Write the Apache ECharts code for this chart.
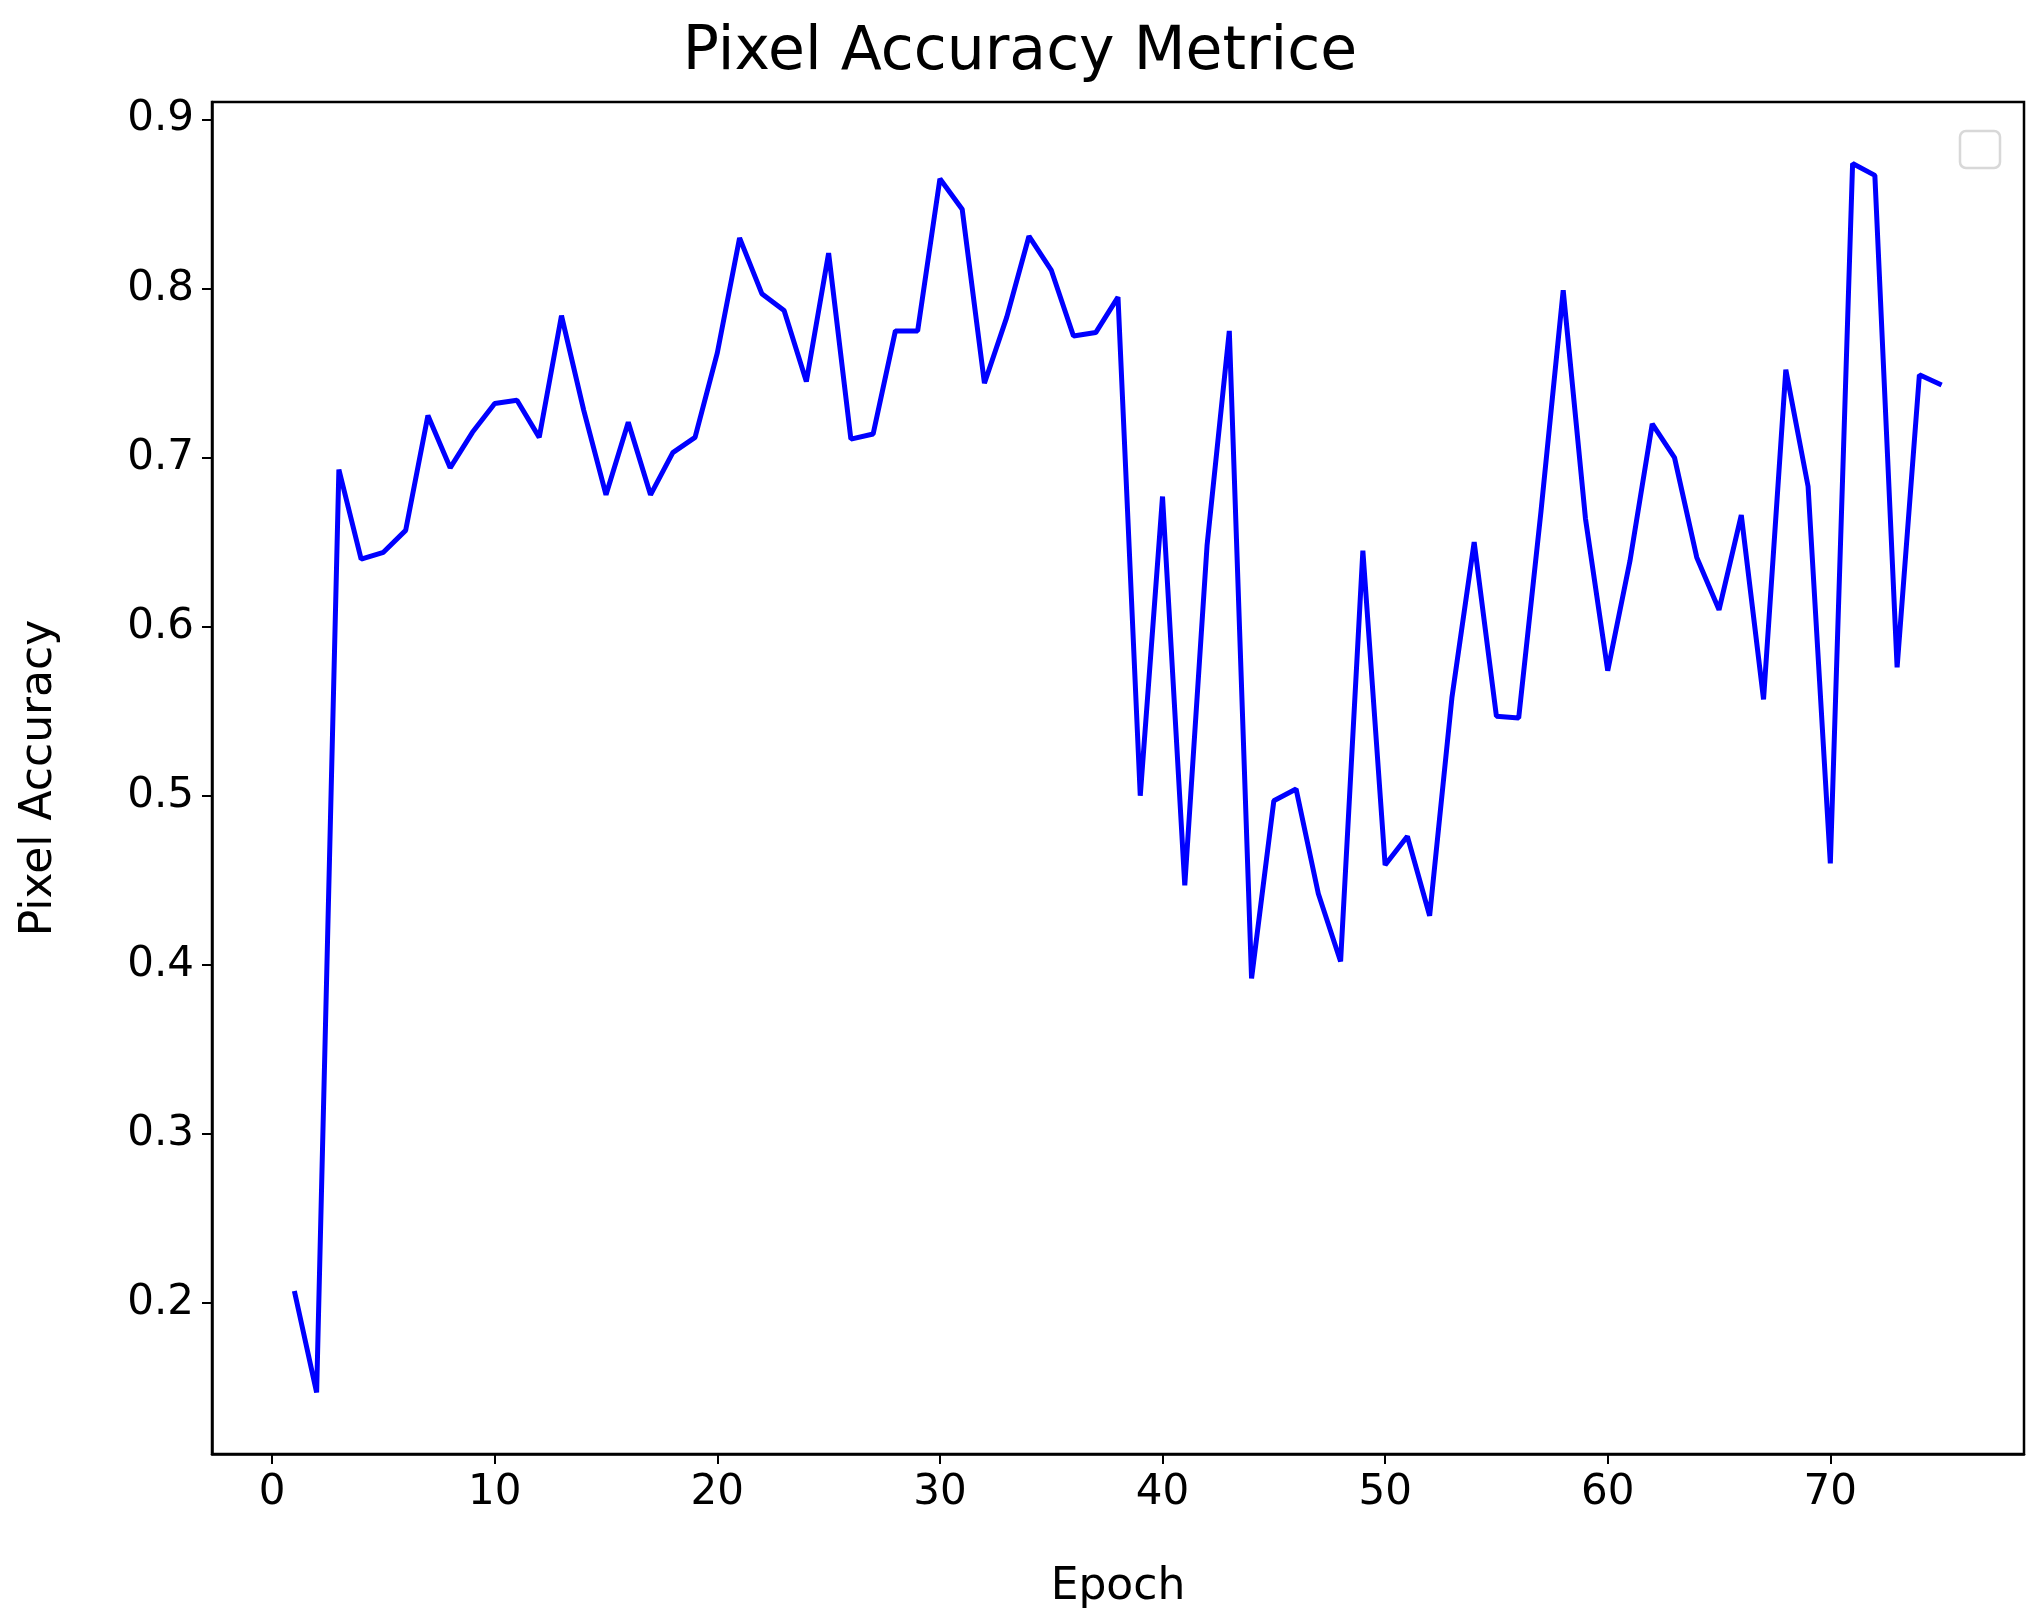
<!DOCTYPE html>
<html><head><meta charset="utf-8">
<script src="https://cdn.jsdelivr.net/npm/echarts@6/dist/echarts.min.js"></script>
<style>html,body{margin:0;padding:0;background:#fff}#c{width:2040px;height:1620px}</style>
</head><body><div id="c"></div>
<script>
const epochs = [];
for (let i = 1; i <= 75; i++) epochs.push(i);
const accuracy = [0.207,0.147,0.693,0.640,0.644,0.657,0.725,0.694,0.715,0.732,
0.734,0.712,0.784,0.728,0.678,0.721,0.678,0.703,0.712,0.762,
0.830,0.797,0.787,0.745,0.821,0.711,0.714,0.775,0.775,0.865,
0.847,0.744,0.783,0.831,0.811,0.772,0.774,0.795,0.500,0.677,
0.447,0.648,0.775,0.392,0.497,0.504,0.442,0.402,0.645,0.459,
0.476,0.429,0.558,0.650,0.547,0.546,0.668,0.799,0.664,0.574,
0.639,0.720,0.700,0.641,0.610,0.666,0.557,0.752,0.683,0.460,
0.874,0.867,0.576,0.749,0.743];
const xTicks = [0,10,20,30,40,50,60,70];
const yTicks = [0.2,0.3,0.4,0.5,0.6,0.7,0.8,0.9];
const font = 'DejaVu Sans';
const chart = echarts.init(document.getElementById('c'));
chart.setOption({
  animation:false,
  title:{text:'Pixel Accuracy Metrice',left:'center',top:18,textStyle:{fontFamily:font,fontSize:60,fontWeight:'normal',color:'#000'}},
  grid:{left:212,right:16,top:102,bottom:166,show:true,borderColor:'#000',borderWidth:2.5,backgroundColor:'#fff'},
  xAxis:{type:'value',min:-2.7,max:78.7,name:'Epoch',nameLocation:'middle',nameGap:112,
    nameTextStyle:{fontFamily:font,fontSize:44,color:'#000'},
    axisLine:{show:true,onZero:false,lineStyle:{color:'#000',width:2.5}},splitLine:{show:false},
    axisTick:{show:true,length:10,lineStyle:{color:'#000',width:2},customValues:xTicks},
    axisLabel:{fontFamily:font,fontSize:42,color:'#000',margin:18,customValues:xTicks}},
  yAxis:{type:'value',min:0.1106,max:0.9104,name:'Pixel Accuracy',nameLocation:'middle',nameGap:150,
    nameTextStyle:{fontFamily:font,fontSize:44,color:'#000'},
    axisLine:{show:true,onZero:false,lineStyle:{color:'#000',width:2.5}},splitLine:{show:false},
    axisTick:{show:true,length:10,lineStyle:{color:'#000',width:2},customValues:yTicks},
    axisLabel:{fontFamily:font,fontSize:42,color:'#000',margin:18,customValues:yTicks,formatter:v=>v.toFixed(1)}},
  graphic:[{type:'rect',shape:{x:1960,y:131,width:40,height:37,r:6},style:{fill:'#fff',stroke:'#d8d8d8',lineWidth:2.5}}],
  series:[{type:'line',data:epochs.map((e,i)=>[e,accuracy[i]]),showSymbol:false,
    lineStyle:{color:'#0000ff',width:5},itemStyle:{color:'#0000ff'}}]
});
</script></body></html>
